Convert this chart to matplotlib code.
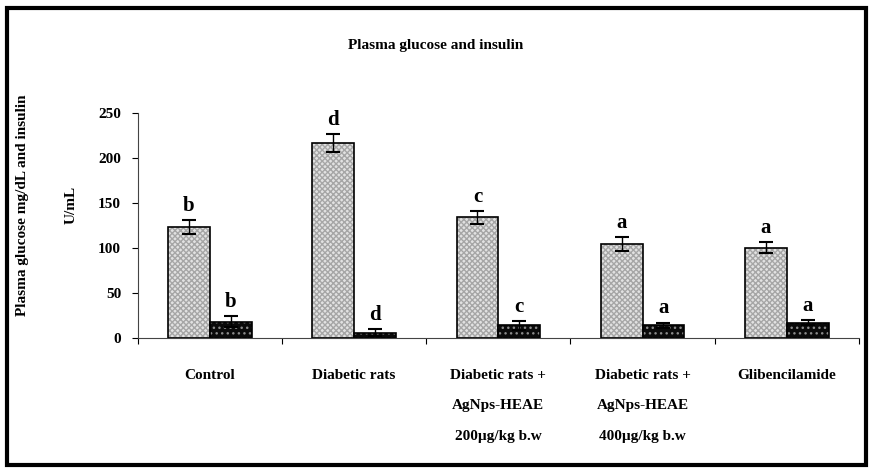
import matplotlib.pyplot as plt
import numpy as np
from matplotlib.patches import Rectangle

plt.rcParams['font.family'] = ['Liberation Serif', 'DejaVu Serif']
plt.rcParams['font.weight'] = 'bold'

groups = ['Control', 'Diabetic rats', 'Diabetic rats +\nAgNps-HEAE\n200\u00b5g/kg b.w',
          'Diabetic rats +\nAgNps-HEAE\n400\u00b5g/kg b.w', 'Glibencilamide']
glucose = [123, 216, 134, 104, 100]
glucose_err = [8, 10, 7, 8, 6]
insulin = [18, 6, 14, 14, 17]
insulin_err = [6, 4, 5, 3, 3]
glucose_sig = ['b', 'd', 'c', 'a', 'a']
insulin_sig = ['b', 'd', 'c', 'a', 'a']

fig = plt.figure(figsize=(8.72, 4.72), dpi=100)
ax = fig.add_axes([0.158, 0.284, 0.827, 0.477])

x = np.arange(len(groups)) + 0.5
w = 0.29

# glucose bars: light textured gray
ax.bar(x - w / 2, glucose, w, color='#e2e2e2', edgecolor='#a6a6a6', hatch='xxxxxx', linewidth=0)
ax.bar(x - w / 2, glucose, w, fill=False, edgecolor='black', linewidth=1.2)
# insulin bars: black with light dots
ax.bar(x + w / 2, insulin, w, color='#0a0a0a', edgecolor='#8a8a8a', hatch='...', linewidth=0)
ax.bar(x + w / 2, insulin, w, fill=False, edgecolor='black', linewidth=1.2)

ax.errorbar(x - w / 2, glucose, yerr=glucose_err, fmt='none', ecolor='black', elinewidth=1, capsize=5, capthick=1.5)
ax.errorbar(x + w / 2, insulin, yerr=insulin_err, fmt='none', ecolor='black', elinewidth=1, capsize=5, capthick=1.5)

for i in range(len(groups)):
    ax.annotate(glucose_sig[i], (x[i] - w / 2, glucose[i] + glucose_err[i]), xytext=(0, 3),
                textcoords='offset points', ha='center', va='bottom', fontsize=15, fontweight='bold')
    ax.annotate(insulin_sig[i], (x[i] + w / 2, insulin[i] + insulin_err[i]), xytext=(0, 3),
                textcoords='offset points', ha='center', va='bottom', fontsize=15, fontweight='bold')

ax.set_xlim(0, 5)
ax.set_ylim(0, 250)
ax.set_yticks([0, 50, 100, 150, 200, 250])
ax.set_xticks(np.arange(6))
ax.set_xticklabels([])
ax.set_xticks(x, minor=True)
ax.set_xticklabels(groups, minor=True, fontsize=11, fontweight='bold', linespacing=2.75, va='top')
ax.tick_params(axis='x', which='minor', length=0, pad=22)
ax.tick_params(axis='x', which='major', length=4, direction='out')
ax.tick_params(axis='y', length=4, direction='out', labelsize=11, pad=8)
for lab in ax.get_yticklabels():
    lab.set_fontweight('bold')
for s in ['top', 'right']:
    ax.spines[s].set_visible(False)
for s in ['left', 'bottom']:
    ax.spines[s].set_color('#444444')

fig.text(0.5, 0.903, 'Plasma glucose and insulin', ha='center', va='center', fontsize=11, fontweight='bold')
fig.text(0.026, 0.565, 'Plasma glucose mg/dL and insulin', rotation=90, ha='center', va='center',
         fontsize=11, fontweight='bold')
fig.text(0.082, 0.565, 'U/mL', rotation=90, ha='center', va='center', fontsize=11, fontweight='bold')

fig.patches.append(Rectangle((0.008, 0.015), 0.985, 0.968, transform=fig.transFigure,
                             fill=False, edgecolor='black', linewidth=3))

fig.savefig('out.png', dpi=100)
